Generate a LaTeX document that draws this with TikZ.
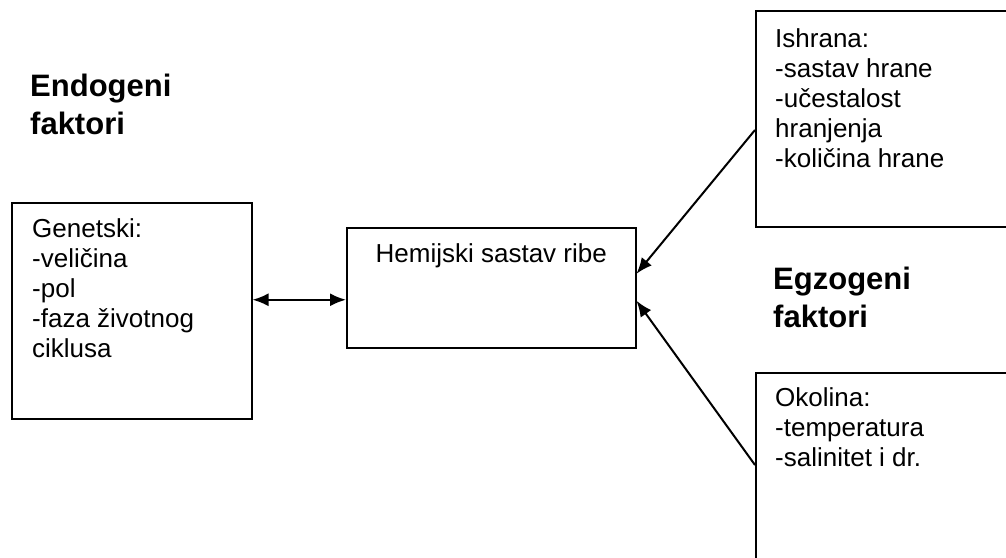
\documentclass[tikz,border=0pt]{standalone}
\usepackage{fontspec}
\setmainfont{Liberation Sans}
\usetikzlibrary{positioning,arrows.meta,calc}

\begin{document}
\begin{tikzpicture}[x=1pt,y=-1pt,
  >={Latex[length=16pt,width=13pt]},
  box/.style={draw,line width=1.5pt,inner sep=0pt,anchor=north west},
  txt/.style={font=\fontsize{26}{30}\selectfont,align=left,anchor=base west,inner sep=0pt},
  head/.style={font=\fontsize{31}{38}\selectfont\bfseries,align=left,anchor=base west,inner sep=0pt},
  arr/.style={->,line width=2pt}]

  \useasboundingbox (0,0) rectangle (1006,557);
  \fill[white] (0,0) rectangle (1006,557);
  \clip (0,0) rectangle (1006,557);

  % boxes
  \node[box,minimum width=240pt,minimum height=216pt] (genetski) at (11,202) {};
  \node[box,minimum width=289pt,minimum height=120pt] (hemija) at (346,227) {};
  \node[box,minimum width=280pt,minimum height=216pt] (ishrana) at (755,10) {};
  \node[box,minimum width=280pt,minimum height=230pt] (okolina) at (755,372) {};

  % texts (base = last line)
  \node[txt] (genetskitxt) at ([xshift=21pt,yshift=-155pt]genetski.north west) {Genetski:\\-veličina\\-pol\\-faza životnog\\ciklusa};
  \node[txt,anchor=base] (hemijatxt) at ([yshift=-35pt]hemija.north) {Hemijski sastav ribe};
  \node[txt] (ishranatxt) at ([xshift=20pt,yshift=-157pt]ishrana.north west) {Ishrana:\\-sastav hrane\\-učestalost\\hranjenja\\-količina hrane};
  \node[txt] (okolinatxt) at ([xshift=20pt,yshift=-94pt]okolina.north west) {Okolina:\\-temperatura\\-salinitet i dr.};
  \node[head] (endogeni) at (30,134) {Endogeni\\faktori};
  \node[head] (egzogeni) at (773,327) {Egzogeni\\faktori};

  % connectors
  \coordinate (hemin) at ([yshift=-12pt]hemija.west);
  \draw[arr,<->] (genetski.east |- hemin) -- (hemin);
  \draw[arr] ([yshift=-120pt]ishrana.north west) -- ([yshift=14pt]hemija.east);
  \draw[arr] ([yshift=-93pt]okolina.north west) -- ([yshift=-13pt]hemija.east);

\end{tikzpicture}
\end{document}
